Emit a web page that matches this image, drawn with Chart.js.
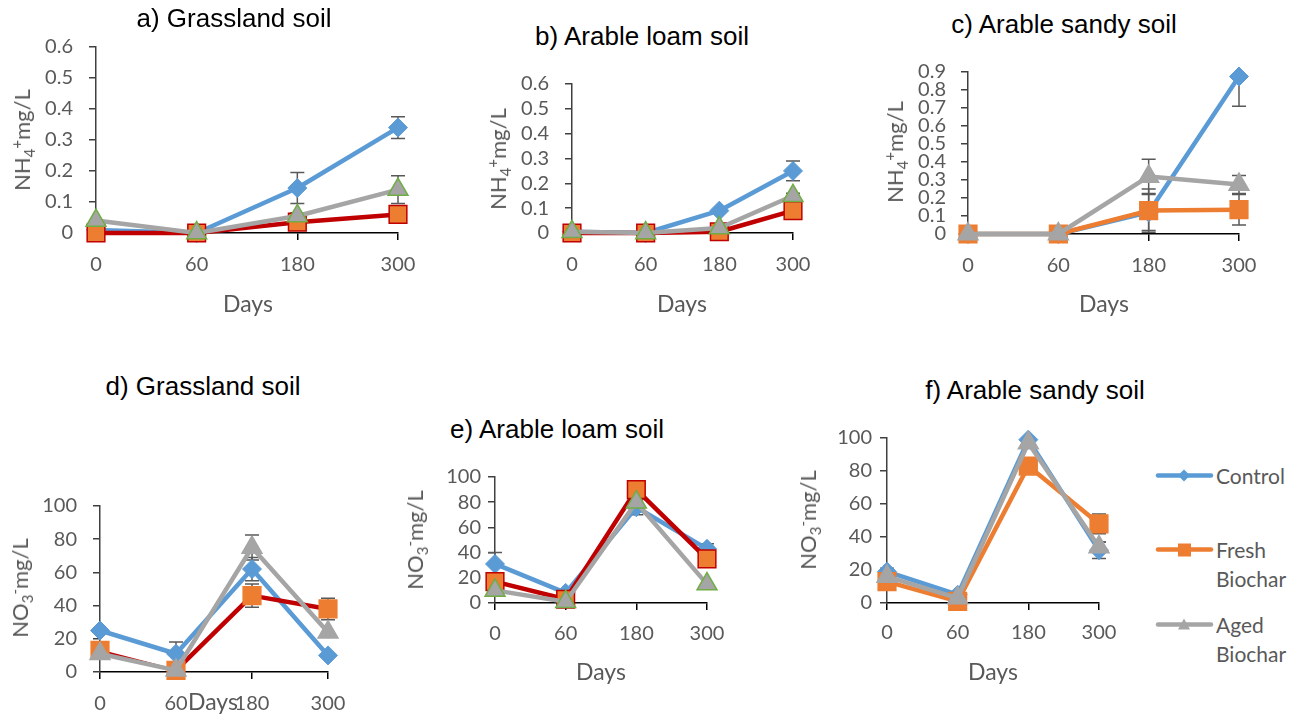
<!DOCTYPE html>
<html>
<head>
<meta charset="utf-8">
<title>NH4+ and NO3- in three soils</title>
<script src="https://cdn.jsdelivr.net/npm/chart.js@4.4.1/dist/chart.umd.min.js"></script>
<style>
  body { margin: 0; background: #fff; }
  #page { position: relative; width: 1301px; height: 718px; overflow: hidden; font-family: Lato, sans-serif; }
  #page canvas { position: absolute; }
  .title { position: absolute; font: 400 26px/30px "Liberation Sans", Arial, sans-serif; color: #000; white-space: nowrap; transform: translateX(-50%); }
  .days { position: absolute; font: 23px/26px Lato, sans-serif; color: #595959; transform: translateX(-50%); }
  .ylab { position: absolute; font: 22px/26px Lato, sans-serif; color: #595959; white-space: nowrap; transform: translate(-50%, -50%) rotate(-90deg); }
  .ylab sub, .ylab sup { font-size: 15px; line-height: 0; }
  .leg { position: absolute; left: 1155px; font: 21px/29px Lato, sans-serif; color: #595959; }
  .leg svg { position: absolute; left: 0; top: 0; }
  .leg span { position: absolute; left: 61px; top: 0; white-space: nowrap; }
</style>
</head>
<body>
<div id="page"></div>
<script>
// Дни отбора проб
const days = ['0', '60', '180', '300'];

// a) Grassland soil, NH4+
const grassNH4Control = [0.01, 0, 0.145, 0.34];
const grassNH4ControlErr = [0, 0, 0.05, 0.035];
const grassNH4Fresh = [0, 0, 0.035, 0.06];
const grassNH4FreshErr = [0, 0, 0.01, 0.01];
const grassNH4Aged = [0.04, 0, 0.055, 0.14];
const grassNH4AgedErr = [0, 0, 0.01, 0.045];

// b) Arable loam soil, NH4+
const loamNH4Control = [0.005, 0, 0.09, 0.25];
const loamNH4ControlErr = [0, 0, 0.005, 0.04];
const loamNH4Fresh = [0, 0, 0.005, 0.09];
const loamNH4FreshErr = [0, 0, 0, 0.01];
const loamNH4Aged = [0.005, 0, 0.02, 0.15];
const loamNH4AgedErr = [0, 0, 0.01, 0.01];

// c) Arable sandy soil, NH4+
const sandNH4Control = [0, 0, 0.12, 0.875];
const sandNH4ControlErr = [0, 0, 0.1, 0.165];
const sandNH4Fresh = [0, 0, 0.13, 0.135];
const sandNH4FreshErr = [0, 0, 0.12, 0.085];
const sandNH4Aged = [0, 0, 0.32, 0.275];
const sandNH4AgedErr = [0, 0, 0.095, 0.05];

// d) Grassland soil, NO3-
const grassNO3Control = [25, 11, 62, 10];
const grassNO3ControlErr = [0, 7, 7, 0];
const grassNO3Fresh = [13, 1, 46, 38];
const grassNO3FreshErr = [0, 0, 7, 6.5];
const grassNO3Aged = [11, 1, 75, 24];
const grassNO3AgedErr = [0, 0, 7.5, 0];

// e) Arable loam soil, NO3-
const loamNO3Control = [31, 8, 76, 43];
const loamNO3ControlErr = [9, 0, 6, 4];
const loamNO3Fresh = [17, 3, 90, 35];
const loamNO3FreshErr = [0, 0, 0, 0];
const loamNO3Aged = [10, 1, 80, 15];
const loamNO3AgedErr = [0, 0, 0, 0];

// f) Arable sandy soil, NO3-
const sandNO3Control = [19, 5, 99, 32];
const sandNO3ControlErr = [2, 1, 0, 5];
const sandNO3Fresh = [13, 1, 83, 48];
const sandNO3FreshErr = [0, 0, 0, 6];
const sandNO3Aged = [16, 3, 97, 34];
const sandNO3AgedErr = [0, 0, 0, 3];

const blue = '#5B9BD5', orange = '#ED7D31', red = '#C00000', gray = '#A5A5A5', green = '#70AD47';
const page = document.getElementById('page');

// Планки погрешностей
const errorBars = {
  id: 'errorBars',
  beforeDatasetsDraw(chart) {
    const { ctx, chartArea, scales: { x, y } } = chart;
    ctx.save();
    ctx.beginPath();
    ctx.rect(chartArea.left - 30, chartArea.top, chartArea.width + 60, chartArea.height + 1);
    ctx.clip();
    ctx.strokeStyle = '#595959';
    ctx.lineWidth = 1.5;
    chart.data.datasets.forEach(ds => {
      ds.data.forEach((v, i) => {
        const e = ds.err[i];
        if (!e) return;
        const px = x.getPixelForValue(i);
        const top = y.getPixelForValue(v + e);
        const bot = y.getPixelForValue(v - e);
        ctx.beginPath();
        ctx.moveTo(px, top); ctx.lineTo(px, bot);
        ctx.moveTo(px - 7, top); ctx.lineTo(px + 7, top);
        ctx.moveTo(px - 7, bot); ctx.lineTo(px + 7, bot);
        ctx.stroke();
      });
    });
    ctx.restore();
  }
};

function text(cls, html, x, y) {
  const el = document.createElement('div');
  el.className = cls;
  el.innerHTML = html;
  el.style.left = x + 'px';
  el.style.top = y + 'px';
  page.appendChild(el);
}

function makePanel(box, yMax, yPad, xPad, ctrl, fresh, aged, look) {
  const AXW = 80, AXH = 60, PT = 20, PR = 40;
  const w = box.R - box.L + AXW + PR, h = box.B - box.T + PT + AXH;
  const cv = document.createElement('canvas');
  cv.width = w; cv.height = h;
  cv.style.left = (box.L - AXW) + 'px';
  cv.style.top = (box.T - PT) + 'px';
  cv.style.width = w + 'px';
  cv.style.height = h + 'px';
  page.appendChild(cv);

  const line = (label, d, color, style, radius, edge, edgeW, order) => ({
    label, data: d[0], err: d[1],
    borderColor: color, borderWidth: 4.5, borderJoinStyle: 'round', borderCapStyle: 'round',
    pointStyle: style, pointRadius: radius, pointBackgroundColor: d[2] || color,
    pointBorderColor: edge, pointBorderWidth: edgeW, order, clip: false, tension: 0
  });
  const fs = line('Fresh Biochar', [fresh[0], fresh[1], orange], look.freshLine, 'rect', 12.5, look.freshEdge, 1.5, 2);
  if (look.thinFirst) fs.segment = { borderWidth: c => c.p0DataIndex === 0 ? 2 : 4.5 };
  const tickFont = { family: 'Lato', size: 20 };

  new Chart(cv, {
    type: 'line',
    data: {
      labels: days,
      datasets: [
        line('Control', ctrl, blue, 'rectRot', 9.5, blue, 1, 3),
        fs,
        line('Aged Biochar', aged, gray, 'triangle', 11.5, look.agedEdge, 1.5, 1)
      ]
    },
    options: {
      responsive: false,
      animation: false,
      events: [],
      layout: { padding: { left: 0, right: PR, top: PT, bottom: 0 } },
      plugins: { legend: { display: false }, tooltip: { enabled: false } },
      scales: {
        x: {
          offset: false,
          grid: { drawOnChartArea: false, tickLength: 7, color: '#000', lineWidth: 1.5 },
          border: { color: '#000', width: 1.5 },
          ticks: { color: '#595959', font: tickFont, padding: xPad, maxRotation: 0, autoSkip: false },
          afterFit: s => { s.height = AXH; s.paddingLeft = 0; s.paddingRight = 0; }
        },
        y: {
          min: 0, max: yMax,
          grid: { drawOnChartArea: false, tickLength: 7, color: '#404040', lineWidth: 1.5 },
          border: { color: '#404040', width: 1.5 },
          ticks: { stepSize: yMax > 1 ? 20 : 0.1, autoSkip: false, color: '#595959', font: tickFont, padding: yPad },
          afterFit: s => { s.width = AXW; s.paddingTop = 0; s.paddingBottom = 0; }
        }
      }
    },
    plugins: [errorBars]
  });
}

const lookRed = { freshLine: red, freshEdge: red, agedEdge: green };
const lookFlat = { freshLine: red, freshEdge: orange, agedEdge: gray, thinFirst: true };
const lookOrange = { freshLine: orange, freshEdge: orange, agedEdge: gray };

makePanel({ L: 96, R: 398, T: 47, B: 233 }, 0.6, 16, 13,
  [grassNH4Control, grassNH4ControlErr], [grassNH4Fresh, grassNH4FreshErr], [grassNH4Aged, grassNH4AgedErr], lookRed);
makePanel({ L: 572, R: 793, T: 84, B: 233 }, 0.6, 16, 13,
  [loamNH4Control, loamNH4ControlErr], [loamNH4Fresh, loamNH4FreshErr], [loamNH4Aged, loamNH4AgedErr], lookRed);
makePanel({ L: 968, R: 1239, T: 72, B: 234 }, 0.9, 15, 13,
  [sandNH4Control, sandNH4ControlErr], [sandNH4Fresh, sandNH4FreshErr], [sandNH4Aged, sandNH4AgedErr], lookOrange);
makePanel({ L: 100, R: 328, T: 506, B: 672 }, 100, 16, 13,
  [grassNO3Control, grassNO3ControlErr], [grassNO3Fresh, grassNO3FreshErr], [grassNO3Aged, grassNO3AgedErr], lookFlat);
makePanel({ L: 495, R: 707, T: 477, B: 603 }, 100, 7, 12,
  [loamNO3Control, loamNO3ControlErr], [loamNO3Fresh, loamNO3FreshErr], [loamNO3Aged, loamNO3AgedErr], lookRed);
makePanel({ L: 887, R: 1099, T: 438, B: 603 }, 100, 8, 11,
  [sandNO3Control, sandNO3ControlErr], [sandNO3Fresh, sandNO3FreshErr], [sandNO3Aged, sandNO3AgedErr], lookOrange);

// Заголовки и подписи осей
text('title', 'a) Grassland soil', 234, 3);
text('title', 'b) Arable loam soil', 642, 21);
text('title', 'c) Arable sandy soil', 1064, 9);
text('title', 'd) Grassland soil', 203, 371);
text('title', 'e) Arable loam soil', 557, 414);
text('title', 'f) Arable sandy soil', 1035, 375);

text('days', 'Days', 248, 290);
text('days', 'Days', 682, 290);
text('days', 'Days', 1104, 290);
text('days', 'Days', 213, 688);
text('days', 'Days', 601, 658);
text('days', 'Days', 993, 658);

const nh4 = 'NH<sub>4</sub><sup>+</sup>mg/L';
const no3 = 'NO<sub>3</sub><sup>-</sup>mg/L';
text('ylab', nh4, 22, 140);
text('ylab', nh4, 498, 159);
text('ylab', nh4, 895, 152);
text('ylab', no3, 20, 588);
text('ylab', no3, 415, 540);
text('ylab', no3, 808, 520);

// Легенда
const legendItems = [
  { label: 'Control', color: blue, mark: '<polygon points="29,6 35,12 29,18 23,12"/>', top: 461 },
  { label: 'Fresh<br>Biochar', color: orange, mark: '<rect x="23" y="6" width="13" height="13"/>', top: 535 },
  { label: 'Aged<br>Biochar', color: gray, mark: '<polygon points="29,6 35,17 23,17"/>', top: 610 }
];
legendItems.forEach(it => {
  text('leg',
    `<svg width="60" height="29" viewBox="0 0 60 29"><g transform="translate(0,2.5)">` +
    `<line x1="3" y1="12" x2="56" y2="12" stroke="${it.color}" stroke-width="4.5" stroke-linecap="round"/>` +
    `<g fill="${it.color}">${it.mark}</g></g></svg><span>${it.label}</span>`,
    1155, it.top);
});
</script>
</body>
</html>
